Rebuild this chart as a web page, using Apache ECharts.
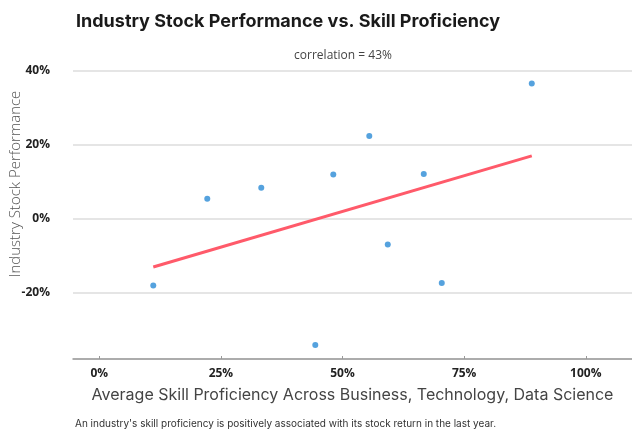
<!DOCTYPE html>
<html>
<head>
<meta charset="utf-8">
<script src="https://cdn.jsdelivr.net/npm/echarts@6/dist/echarts.min.js"></script>
<style>
  html, body { margin: 0; padding: 0; background: #fff; }
  #chart { width: 632px; height: 429px; }
</style>
</head>
<body>
<div id="chart"></div>
<script>
// skill proficiency (x) and stock return (y) per industry
var skillX = [0.111, 0.222, 0.333, 0.444, 0.481, 0.555, 0.593, 0.667, 0.704, 0.889]
var stockY = [-0.181, 0.054, 0.084, -0.342, 0.120, 0.224, -0.070, 0.121, -0.174, 0.366]
// fitted trend line end points
var trendX = [0.111, 0.889]
var trendY = [-0.131, 0.170]
var xTicks = [0, 0.25, 0.5, 0.75, 1]

var points = []
for (let i = 0; i < skillX.length; i++) {
	points.push([skillX[i], stockY[i]])
}
var trend = []
for (let i = 0; i < trendX.length; i++) {
	trend.push([trendX[i], trendY[i]])
}

function pct(v) {
	return Math.round(v * 100) + '%'
}

var chart = echarts.init(document.getElementById('chart'))

var option = {
	animation: false,
	title: [{
		text: 'Industry Stock Performance vs. Skill Proficiency',
		left: 71,
		top: 8,
		textStyle: { fontFamily: 'Inter', fontWeight: 'bold', fontSize: 18, color: '#1a1a1a' }
	}, {
		text: 'correlation = 43%',
		left: 338,
		top: 45,
		textAlign: 'center',
		textStyle: { fontFamily: 'Open Sans', fontWeight: 'normal', fontSize: 12, color: '#444' }
	}, {
		text: "An industry's skill proficiency is positively associated with its stock return in the last year.",
		left: 70,
		top: 414,
		textStyle: { fontFamily: 'Inter', fontWeight: 'normal', fontSize: 10, color: '#333' }
	}],
	grid: {
		left: 73,
		right: 0,
		top: 71,
		bottom: 70,
		containLabel: false,
		outerBoundsMode: 'none'
	},
	xAxis: {
		type: 'value',
		min: -0.054,
		max: 1.095,
		name: 'Average Skill Proficiency Across Business, Technology, Data Science',
		nameLocation: 'middle',
		nameGap: 28,
		nameMoveOverlap: false,
		nameTextStyle: { fontFamily: 'Inter', fontSize: 16, color: '#444' },
		axisLine: { show: true, onZero: false, lineStyle: { color: '#999', width: 1.5 } },
		axisTick: { show: true, inside: true, length: 3, customValues: xTicks, lineStyle: { color: '#999' } },
		axisLabel: {
			customValues: xTicks,
			formatter: pct,
			margin: 9,
			fontFamily: 'Open Sans',
			fontWeight: 'bold',
			fontSize: 12,
			color: '#222'
		},
		splitLine: { show: false }
	},
	yAxis: {
		type: 'value',
		min: -0.38,
		max: 0.40,
		name: 'Industry Stock Performance',
		nameLocation: 'middle',
		nameGap: 50,
		nameMoveOverlap: false,
		nameTextStyle: { fontFamily: 'Open Sans', fontWeight: 300, fontSize: 15, color: '#555', padding: [0, 0, 0, 62] },
		axisLine: { show: false },
		axisTick: { show: false },
		axisLabel: {
			showMinLabel: false,
			formatter: pct,
			margin: 23,
			fontFamily: 'Open Sans',
			fontWeight: 'bold',
			fontSize: 12,
			color: '#222'
		},
		splitLine: { show: true, lineStyle: { color: '#dcdcdc', width: 1.5 } }
	},
	series: [{
		type: 'line',
		data: trend,
		symbol: 'none',
		lineStyle: { color: '#ff5a6a', width: 3 },
		z: 2
	}, {
		type: 'scatter',
		data: points,
		symbolSize: 6,
		itemStyle: { color: '#2a8bd6' },
		z: 3
	}]
}

chart.setOption(option)
</script>
</body>
</html>
